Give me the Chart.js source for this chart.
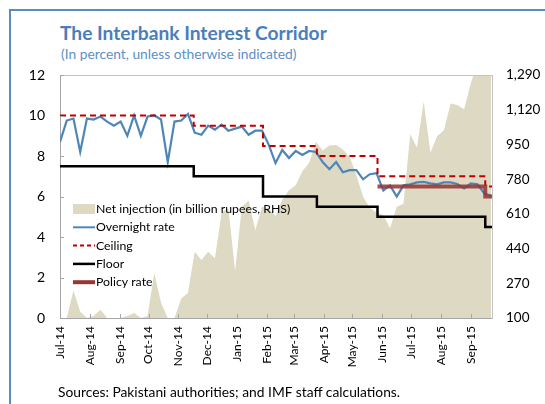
<!DOCTYPE html>
<html>
<head>
<meta charset="utf-8">
<script src="https://cdn.jsdelivr.net/npm/chart.js@4.4.0/dist/chart.umd.min.js"></script>
<style>
  body { margin: 0; width: 545px; height: 404px; overflow: hidden; background: #fff; font-family: Lato, sans-serif; }
  #frame { position: absolute; left: 9px; top: 9px; width: 600px; height: 500px;
           border-left: 2px solid #5b8ac6; border-top: 2px solid #5b8ac6; }
  .txt { position: absolute; white-space: nowrap; line-height: 1; }
  #title { left: 60px; top: 23px; font-size: 19.2px; font-weight: bold; color: #4a7ebb; }
  #subtitle { left: 61px; top: 47px; font-size: 13.8px; color: #5b8fc8; }
  #source { left: 58px; top: 385px; font-size: 13.8px; color: #000; }
  #wrap { position: absolute; left: 0; top: 0; width: 545px; height: 404px; }
</style>
</head>
<body>
<div id="frame"></div>
<div id="title" class="txt">The Interbank Interest Corridor</div>
<div id="subtitle" class="txt">(In percent, unless otherwise indicated)</div>
<div id="wrap"><canvas id="myChart" width="545" height="404"></canvas></div>
<div id="source" class="txt">Sources: Pakistani authorities; and IMF staff calculations.</div>
<script>
const startDate = Date.UTC(2014, 6, 1);
const DAY = 86400000;
const dayOf = (s) => (Date.parse(s) - startDate) / DAY;

// month tick labels (ticks sit on the 1st of each month)
const monthLabels = ["Jul-14", "Aug-14", "Sep-14", "Oct-14", "Nov-14", "Dec-14", "Jan-15",
  "Feb-15", "Mar-15", "Apr-15", "May-15", "Jun-15", "Jul-15", "Aug-15", "Sep-15"];
const monthStarts = monthLabels.map((m, i) => (Date.UTC(2014, 6 + i, 1) - startDate) / DAY);

const lhsTicks = [0, 2, 4, 6, 8, 10, 12];
const rhsTicks = [100, 270, 440, 610, 780, 950, 1120, 1290];

// weekly observations, starting 1 Jul 2014
const overnightRate = [8.7, 9.75, 9.85, 8.2, 9.85, 9.8, 9.95, 9.7, 9.5, 9.7,
  9.0, 10.0, 9.0, 9.95, 10.0, 9.8, 7.7, 9.7, 9.75, 10.08,
  9.15, 9.05, 9.5, 9.3, 9.55, 9.25, 9.35, 9.45, 9.05, 9.25,
  9.25, 8.55, 7.65, 8.3, 7.9, 8.25, 8.05, 8.25, 8.2, 7.7,
  7.35, 7.7, 7.2, 7.3, 7.3, 6.85, 7.1, 7.15, 6.3, 6.55,
  6.0, 6.55, 6.6, 6.7, 6.72, 6.65, 6.6, 6.7, 6.7, 6.62,
  6.4, 6.65, 6.6, 6.15, 6.05];
const netInjection = [100, 100, 235, 130, 100, 110, 140, 100, 100, 100,
  110, 125, 100, 110, 320, 175, 100, 100, 195, 222,
  425, 384, 425, 392, 615, 637, 330, 645, 675, 531,
  645, 635, 600, 680, 725, 750, 820, 860, 963, 920,
  945, 947, 925, 890, 800, 694, 640, 615, 604, 539,
  645, 660, 1000, 935, 1160, 910, 990, 1020, 1150, 1143,
  1122, 1250, 1350, 1400, 1400];

// corridor changes
const changeDates = ["2014-07-01", "2014-11-17", "2015-01-28", "2015-03-25", "2015-05-27", "2015-09-16", "2015-09-23"];
const ceiling = [10, 9.5, 8.5, 8.0, 7.0, 6.5, 6.5];
const floor = [7.5, 7.0, 6.0, 5.5, 5.0, 4.5, 4.5];
const policyDates = ["2015-05-27", "2015-09-16", "2015-09-23"];
const policyRate = [6.5, 6.0, 6.0];

const weekly = (arr) => arr.map((v, i) => ({ x: i * 7, y: v }));
const stepped = (dates, arr) => arr.map((v, i) => ({ x: dayOf(dates[i]), y: v }));

const FONT = "Lato";

const legendItems = [
  { label: "Net injection (in billion rupees, RHS)", type: "box", color: "#ddd9c3" },
  { label: "Overnight rate", type: "line", color: "#4f86b8", width: 2 },
  { label: "Ceiling", type: "line", color: "#c00000", width: 2, dash: [4, 3] },
  { label: "Floor", type: "line", color: "#000000", width: 2.5 },
  { label: "Policy rate", type: "line", color: "#953735", width: 4 },
];

const decor = {
  id: "decor",
  afterDraw(chart) {
    const { ctx, chartArea: a, scales } = chart;
    ctx.save();
    // top border of plot
    ctx.strokeStyle = "#c4c4c4";
    ctx.lineWidth = 1;
    ctx.beginPath();
    ctx.moveTo(a.left, a.top + 0.5);
    ctx.lineTo(a.right, a.top + 0.5);
    ctx.stroke();
    // inside tick marks
    ctx.strokeStyle = "#a6a6a6";
    ctx.beginPath();
    monthStarts.forEach((d) => {
      const px = Math.round(scales.x.getPixelForValue(d)) + 0.5;
      ctx.moveTo(px, a.bottom);
      ctx.lineTo(px, a.bottom - 4);
    });
    lhsTicks.forEach((v) => {
      const py = Math.round(scales.y.getPixelForValue(v)) + 0.5;
      ctx.moveTo(a.left, py);
      ctx.lineTo(a.left + 4, py);
    });
    ctx.stroke();

    // legend
    const x0 = 73, x1 = 95, tx = 96, y0 = 209, dy = 18.3;
    ctx.font = "12.3px " + FONT;
    ctx.textBaseline = "middle";
    ctx.fillStyle = "#000";
    legendItems.forEach((it, i) => {
      const y = y0 + i * dy;
      if (it.type === "box") {
        ctx.fillStyle = it.color;
        ctx.fillRect(x0, y - 5, x1 - x0, 10);
      } else {
        ctx.strokeStyle = it.color;
        ctx.lineWidth = it.width;
        ctx.setLineDash(it.dash || []);
        ctx.beginPath();
        ctx.moveTo(x0, y);
        ctx.lineTo(x1, y);
        ctx.stroke();
        ctx.setLineDash([]);
      }
      ctx.fillStyle = "#000";
      ctx.fillText(it.label, tx, y);
    });
    ctx.restore();
  },
};

const ctx = document.getElementById("myChart").getContext("2d");

new Chart(ctx, {
  type: "line",
  data: {
    datasets: [
      {
        label: "Net injection (in billion rupees, RHS)",
        data: weekly(netInjection),
        yAxisID: "y2",
        fill: "start",
        backgroundColor: "#ddd9c3",
        borderWidth: 0,
        pointRadius: 0,
        order: 5,
      },
      {
        label: "Overnight rate",
        data: weekly(overnightRate),
        yAxisID: "y",
        borderColor: "#4f86b8",
        borderWidth: 2.2,
        pointRadius: 0,
        order: 4,
      },
      {
        label: "Ceiling",
        data: stepped(changeDates, ceiling),
        yAxisID: "y",
        borderColor: "#c00000",
        borderWidth: 2,
        borderDash: [6, 4],
        stepped: "before",
        pointRadius: 0,
        order: 3,
      },
      {
        label: "Floor",
        data: stepped(changeDates, floor),
        yAxisID: "y",
        borderColor: "#000000",
        borderWidth: 2.5,
        stepped: "before",
        pointRadius: 0,
        order: 2,
      },
      {
        label: "Policy rate",
        data: stepped(policyDates, policyRate),
        yAxisID: "y",
        borderColor: "rgba(149,55,53,0.88)",
        borderWidth: 4,
        stepped: "before",
        pointRadius: 0,
        order: 1,
      },
    ],
  },
  options: {
    responsive: false,
    animation: false,
    layout: { padding: { top: 75, left: 0, right: 0, bottom: 0 } },
    plugins: { legend: { display: false }, tooltip: { enabled: false } },
    scales: {
      x: {
        type: "linear",
        min: 0,
        max: 449,
        afterBuildTicks: (s) => { s.ticks = monthStarts.map((v) => ({ value: v })); },
        afterFit: (s) => { s.height = 86; },
        ticks: {
          autoSkip: false,
          minRotation: 90,
          maxRotation: 90,
          padding: 8,
          color: "#000",
          font: { family: FONT, size: 12 },
          callback: (v) => monthLabels[monthStarts.indexOf(v)],
        },
        grid: { display: false, drawTicks: false },
        border: { display: true, color: "#a6a6a6", width: 1 },
      },
      y: {
        position: "left",
        min: 0,
        max: 12,
        afterBuildTicks: (s) => { s.ticks = lhsTicks.map((v) => ({ value: v })); },
        afterFit: (s) => { s.width = 60; },
        ticks: { padding: 15, color: "#000", font: { family: FONT, size: 14 } },
        grid: { display: false, drawTicks: false },
        border: { display: true, color: "#a6a6a6", width: 1 },
      },
      y2: {
        position: "right",
        min: 100,
        max: 1290,
        afterBuildTicks: (s) => { s.ticks = rhsTicks.map((v) => ({ value: v })); },
        afterFit: (s) => { s.width = 53; },
        ticks: {
          padding: 14,
          color: "#000",
          font: { family: FONT, size: 13.5 },
          callback: (v) => v.toLocaleString("en-US"),
        },
        grid: { display: false, drawTicks: false },
        border: { display: true, color: "#c4c4c4", width: 1 },
      },
    },
  },
  plugins: [decor],
});
</script>
</body>
</html>
